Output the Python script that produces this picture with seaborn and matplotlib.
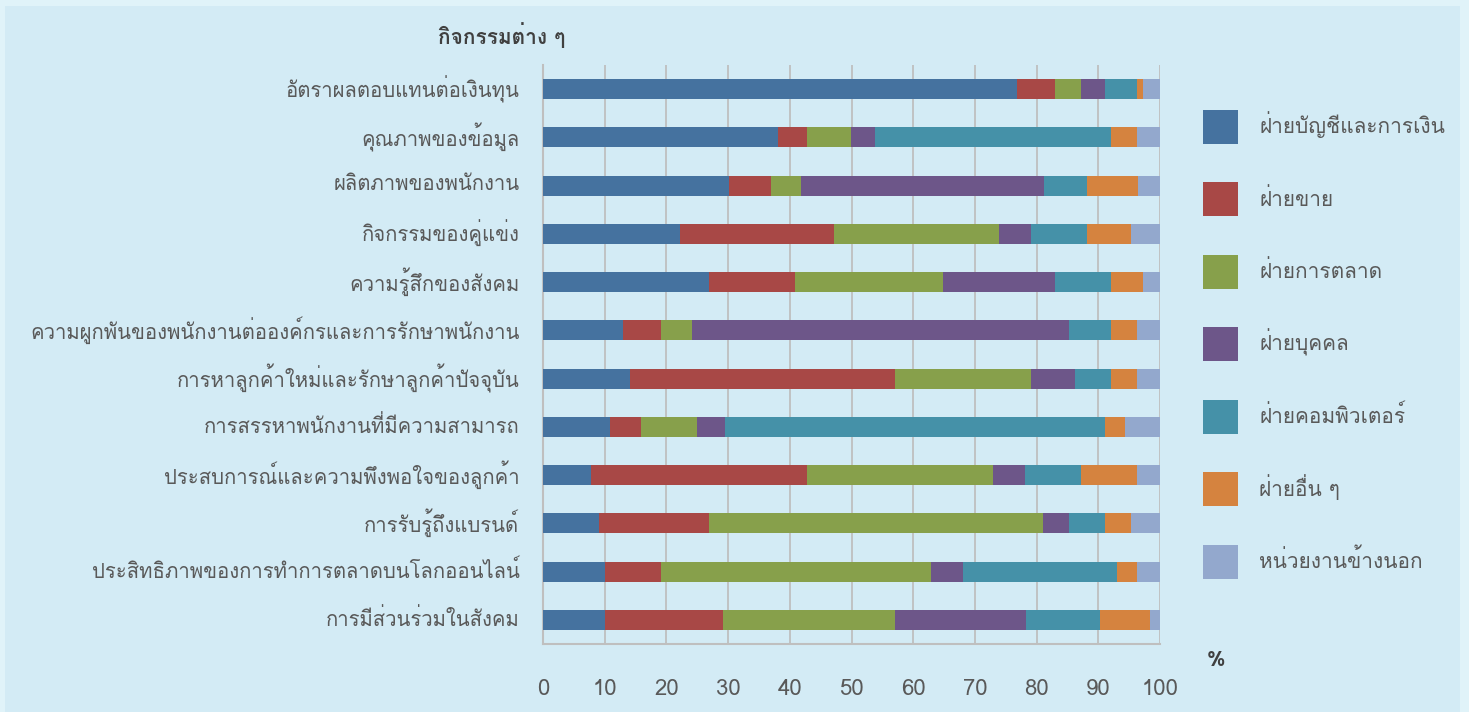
import numpy as np
import pandas as pd
import seaborn as sns
import matplotlib
matplotlib.use('Agg')
import matplotlib.pyplot as plt
from matplotlib import font_manager
from matplotlib.ft2font import FT2Font
from matplotlib.patches import Patch, Rectangle
from matplotlib.transforms import ScaledTranslation

# กิจกรรม (แถวจากบนลงล่าง)
activities = [
    'อัตราผลตอบแทนต่อเงินทุน',
    'คุณภาพของข้อมูล',
    'ผลิตภาพของพนักงาน',
    'กิจกรรมของคู่แข่ง',
    'ความรู้สึกของสังคม',
    'ความผูกพันของพนักงานต่อองค์กรและการรักษาพนักงาน',
    'การหาลูกค้าใหม่และรักษาลูกค้าปัจจุบัน',
    'การสรรหาพนักงานที่มีความสามารถ',
    'ประสบการณ์และความพึงพอใจของลูกค้า',
    'การรับรู้ถึงแบรนด์',
    'ประสิทธิภาพของการทำการตลาดบนโลกออนไลน์',
    'การมีส่วนร่วมในสังคม',
]

departments = ['ฝ่ายบัญชีและการเงิน', 'ฝ่ายขาย', 'ฝ่ายการตลาด', 'ฝ่ายบุคคล',
               'ฝ่ายคอมพิวเตอร์', 'ฝ่ายอื่น ๆ', 'หน่วยงานข้างนอก']

finance = [76.8, 38.1, 30.1, 22.2, 26.9, 12.9, 14.1, 10.9, 7.8, 9.1, 10.1, 10.1]
sales = [6.2, 4.7, 6.8, 25.0, 13.9, 6.2, 42.9, 5.0, 35.0, 17.8, 9.0, 19.1]
marketing = [4.2, 7.1, 4.9, 26.7, 24.1, 5.1, 22.1, 9.0, 30.1, 54.2, 43.8, 27.8]
hr = [3.9, 3.9, 39.4, 5.2, 18.1, 61.1, 7.1, 4.6, 5.3, 4.2, 5.2, 21.3]
computer = [5.2, 38.3, 7.0, 9.1, 9.1, 6.8, 5.9, 61.6, 9.0, 5.8, 24.9, 12.0]
other = [1.0, 4.2, 8.3, 7.1, 5.2, 4.2, 4.2, 3.3, 9.1, 4.2, 3.3, 8.1]
outside = [2.7, 3.7, 3.5, 4.7, 2.7, 3.7, 3.7, 5.6, 3.7, 4.7, 3.7, 1.6]

colors = ['#45729F', '#A84846', '#87A04B', '#6D5689', '#4591A8', '#D5833F', '#93A8CD']
xticks = list(range(0, 101, 10))


def find_thai_font():
    # หาฟอนต์ที่มีอักษรไทย
    for f in font_manager.fontManager.ttflist:
        try:
            cmap = FT2Font(f.fname).get_charmap()
        except Exception:
            continue
        if 0x0E01 in cmap and 0x0E2D in cmap:
            return f.name
    return 'DejaVu Sans'


sns.set_theme(style='white')
thai = find_thai_font()
plt.rcParams['font.family'] = [thai, 'DejaVu Sans']

df = pd.DataFrame({'กิจกรรม': activities})
series = [finance, sales, marketing, hr, computer, other, outside]
for name, vals in zip(departments, series):
    df[name] = vals

fig = plt.figure(figsize=(14.69, 7.12), dpi=100, facecolor='#E0F3F9')
fig.patches.append(Rectangle((5 / 1469, 0), 1455 / 1469, 706 / 712, transform=fig.transFigure,
                             facecolor='#D3EBF5', edgecolor='none', zorder=-10))
ax = fig.add_axes([543 / 1469, 1 - 644 / 712, 617 / 1469, 579 / 712])
ax.set_facecolor('#D3EBF5')

# วาดแบบซ้อนสะสม: ผลรวมมากสุดก่อน แล้วทับด้วยผลรวมที่น้อยกว่า
cum = df[departments].cumsum(axis=1)
for i in range(len(departments) - 1, -1, -1):
    sns.barplot(x=cum[departments[i]], y=df['กิจกรรม'], color=colors[i], orient='h',
                width=0.41, saturation=1, ax=ax, zorder=3, linewidth=0)

ax.set_xlim(0, 100)
ax.set_ylim(len(activities) - 0.5, -0.5)
ax.set_xticks(xticks)
ax.set_xlabel('')
ax.set_ylabel('')
ax.grid(axis='x', color='#BFBFBF', linewidth=1.3, zorder=0)
ax.set_axisbelow(True)
for s in ['top', 'right']:
    ax.spines[s].set_visible(False)
for s in ['left', 'bottom']:
    ax.spines[s].set_color('#BFBFBF')
    ax.spines[s].set_linewidth(1.5)

ax.tick_params(axis='x', which='major', direction='out', length=9, width=1.3, color='#BFBFBF',
               labelsize=16, labelcolor='#595959', pad=16)
ax.tick_params(axis='y', which='major', length=0, labelsize=14.6, labelcolor='#595959', pad=17)
ax.set_yticks(np.arange(-0.5, len(activities), 1), minor=True)
ax.tick_params(axis='y', which='minor', direction='out', length=10, width=1.5, color='#BFBFBF')

# ยกป้ายแกน y ขึ้นเล็กน้อย
shift = ScaledTranslation(0, 3 / 100, fig.dpi_scale_trans)
for lab in ax.get_yticklabels():
    lab.set_transform(lab.get_transform() + shift)

handles = [Patch(facecolor=c, edgecolor='none') for c in colors]
leg = fig.legend(handles, departments, loc='upper left', bbox_to_anchor=(1203 / 1469, 1 - 110 / 712),
                 frameon=False, fontsize=15, handlelength=1.7, handleheight=2.1,
                 labelspacing=1.87, handletextpad=1.0, borderaxespad=0, borderpad=0)
for t in leg.get_texts():
    t.set_color('#595959')

fig.text(502 / 1469, 1 - 35 / 712, 'กิจกรรมต่าง ๆ', ha='center', va='center', fontsize=15,
         fontweight='bold', color='#404040')
fig.text(1216 / 1469, 1 - 660 / 712, '%', ha='center', va='center', fontsize=15,
         fontweight='bold', color='#404040')

fig.savefig('out.png', dpi=100, facecolor=fig.get_facecolor())
